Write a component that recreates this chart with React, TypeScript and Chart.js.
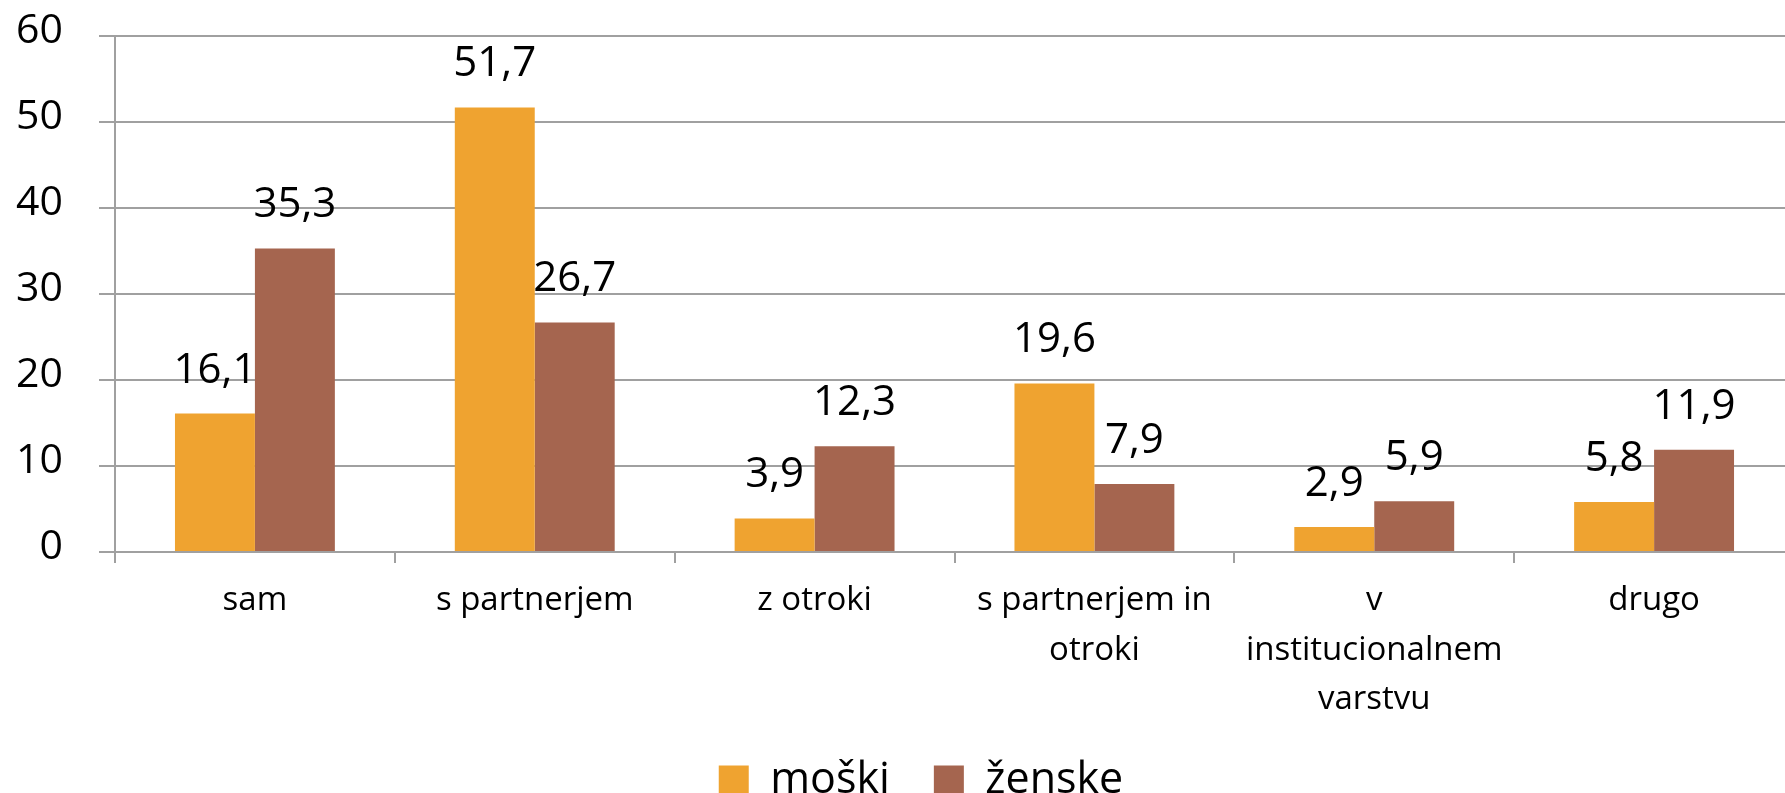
import React, { useEffect, useRef } from 'react';
import { Chart, registerables } from 'chart.js';

Chart.register(...registerables);

const categories: (string | string[])[] = [
  'sam',
  's partnerjem',
  'z otroki',
  ['s partnerjem in', 'otroki'],
  ['v', 'institucionalnem', 'varstvu'],
  'drugo',
];
const moski = [16.1, 51.7, 3.9, 19.6, 2.9, 5.8];
const zenske = [35.3, 26.7, 12.3, 7.9, 5.9, 11.9];
const seriesNames = ['moški', 'ženske'];
const yMin = 0;
const yMax = 60;
const yStep = 10;

const FONT = "'Open Sans', 'Noto Sans', sans-serif";
const GRID = '#a0a0a0';
const ORANGE = '#EFA330';
const BROWN = '#A5654F';

const valueLabels = {
  id: 'valueLabels',
  afterDatasetsDraw(chart: any) {
    const ctx = chart.ctx;
    ctx.save();
    ctx.font = `42px ${FONT}`;
    ctx.fillStyle = '#000';
    ctx.textAlign = 'center';
    ctx.textBaseline = 'alphabetic';
    chart.data.datasets.forEach((ds: any, i: number) => {
      const meta = chart.getDatasetMeta(i);
      meta.data.forEach((el: any, j: number) => {
        const v = ds.data[j] as number;
        ctx.fillText(v.toFixed(1).replace('.', ','), el.x, el.y - 31);
      });
    });
    ctx.restore();
  },
};

const layoutTweak = {
  id: 'layoutTweak',
  afterLayout(chart: any) {
    const l = chart.legend;
    if (l) {
      const dx = 24;
      const dy = 19;
      l.left += dx;
      l.right += dx;
      l.top += dy;
      l.bottom += dy;
    }
    const x = chart.scales.x;
    if (x) {
      // let the multi-line category labels draw below the axis box
      x.bottom = chart.height;
    }
  },
};

export default function App() {
  const ref = useRef<HTMLCanvasElement>(null);

  useEffect(() => {
    if (!ref.current) return;
    const chart = new Chart(ref.current, {
      type: 'bar',
      data: {
        labels: categories as any,
        datasets: [
          {
            label: seriesNames[0],
            data: moski,
            backgroundColor: ORANGE,
            borderWidth: 0,
            categoryPercentage: 0.5714,
            barPercentage: 1,
          },
          {
            label: seriesNames[1],
            data: zenske,
            backgroundColor: BROWN,
            borderWidth: 0,
            categoryPercentage: 0.5714,
            barPercentage: 1,
          },
        ],
      },
      options: {
        responsive: false,
        animation: false,
        devicePixelRatio: 1,
        layout: { padding: { top: 36, left: 0, right: 0, bottom: 0 } },
        plugins: {
          legend: {
            position: 'bottom',
            labels: {
              boxWidth: 30,
              boxHeight: 30,
              padding: 44,
              color: '#000',
              font: { family: FONT, size: 43 },
            },
          },
          tooltip: { enabled: false },
        },
        scales: {
          x: {
            offset: true,
            grid: {
              display: true,
              drawOnChartArea: false,
              drawTicks: true,
              tickLength: 11,
              offset: true,
              color: GRID,
              lineWidth: 2,
            },
            border: { display: true, color: GRID, width: 2 },
            ticks: {
              color: '#000',
              font: { family: FONT, size: 33, lineHeight: 1.5 },
              padding: 13,
              maxRotation: 0,
              minRotation: 0,
              autoSkip: false,
            },
            afterFit: (s: any) => {
              s.height = 144;
              s.paddingLeft = 0;
              s.paddingRight = 0;
            },
          },
          y: {
            min: yMin,
            max: yMax,
            grid: { color: GRID, lineWidth: 2, tickLength: 16, drawTicks: true },
            border: { display: true, color: GRID, width: 2 },
            ticks: {
              stepSize: yStep,
              color: '#000',
              font: { family: FONT, size: 41 },
              padding: 36,
              labelOffset: -5,
            },
            afterFit: (s: any) => {
              s.width = 115;
              s.paddingTop = 0;
              s.paddingBottom = 0;
            },
          },
        },
      } as any,
      plugins: [valueLabels, layoutTweak],
    });
    return () => chart.destroy();
  }, []);

  return (
    <div
      style={{
        position: 'fixed',
        left: 0,
        top: 0,
        width: 1785,
        height: 793,
        overflow: 'hidden',
        background: '#fff',
      }}
    >
      <canvas ref={ref} width={1794} height={793} style={{ display: 'block' }} />
    </div>
  );
}
